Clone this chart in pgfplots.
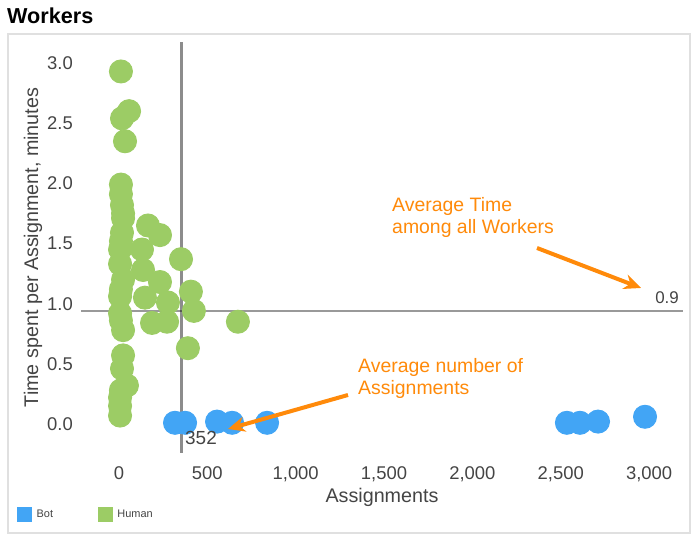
\documentclass[border=0pt]{standalone}
\usepackage{fontspec}
\setmainfont{Liberation Sans}
\usepackage{pgfplots}
\pgfplotsset{compat=1.18}
\usetikzlibrary{arrows.meta}
\definecolor{botblue}{HTML}{42A5F5}
\definecolor{humgreen}{HTML}{9CCC65}
\definecolor{txtgray}{HTML}{444444}
\definecolor{annor}{HTML}{FF8A0A}
\begin{document}
\begin{tikzpicture}[x=1bp,y=1bp]
\useasboundingbox (0,0) rectangle (698,539);
\begin{scope}[yshift=539bp,y=-1bp]
\draw[color=black!12, line width=1.2bp] (8,34) rectangle (690,533);
\node[anchor=west, inner sep=0, font=\fontsize{21.7}{26}\selectfont\bfseries] at (7,16) {Workers};
\end{scope}
\begin{axis}[
  at={(81bp,86bp)}, anchor=south west, scale only axis,
  width=602bp, height=411bp,
  xmin=-215, xmax=3192, ymin=-0.241, ymax=3.175,
  axis line style={draw=none}, major tick length=0pt,
  xtick={0,500,1000,1500,2000,2500,3000},
  ytick={0,0.5,1,1.5,2,2.5,3},
  /pgf/number format/assume math mode=true,
  x tick label style={/pgf/number format/.cd,1000 sep={,},fixed,/tikz/.cd, inner sep=0pt, anchor=north, yshift=-13bp},
  y tick label style={/pgf/number format/.cd,fixed,fixed zerofill,precision=1,/tikz/.cd, inner sep=0pt, anchor=east, xshift=-8bp},
  tick label style={font=\fontsize{18.5}{22}\selectfont, text=txtgray},
  xlabel={Assignments},
  ylabel={Time spent per Assignment, minutes},
  label style={font=\fontsize{19.8}{24}\selectfont, text=txtgray},
  xlabel style={at={(axis description cs:0.5,-0.109)}, anchor=center, inner sep=0pt},
  ylabel style={at={(axis description cs:-0.0797,0.5)}, anchor=center, inner sep=0pt},
  legend columns=2,
  legend style={at={(axis description cs:-0.1063,-0.1484)}, anchor=west, draw=none, fill=none, inner sep=0pt,
    font=\fontsize{11}{13}\selectfont, text=txtgray,
    nodes={inner sep=0pt, anchor=west},
    /tikz/every odd column/.style={column sep=5bp},
    /tikz/every even column/.style={column sep=45bp}},
  clip=false,
]
\addplot[botblue, only marks, mark=*, mark size=11.5bp, mark options={draw=botblue, fill=botblue, line width=1bp},
  legend image code/.code={\fill[botblue] (0bp,-7bp) rectangle (14bp,7bp);}]
  coordinates {
  (317,0.01) (374,0.01) (555,0.02) (640,0.01) (838,0.01)
  (2535,0.01) (2609,0.01) (2711,0.02) (2977,0.06)
  };
\addlegendentry{Bot}
\addplot[humgreen, only marks, mark=*, mark size=11.5bp, mark options={draw=humgreen, fill=humgreen, line width=1bp},
  legend image code/.code={\fill[humgreen] (0bp,-7bp) rectangle (14bp,7bp);}]
  coordinates {
  (11,2.93) (57,2.60) (17,2.54) (34,2.35) (11,1.99) (11,1.91)
  (17,1.82) (23,1.75) (23,1.71) (17,1.59) (11,1.52) (6,1.45) (6,1.33)
  (23,1.20) (11,1.12) (6,1.06) (6,0.92) (11,0.86) (23,0.78)
  (23,0.57) (17,0.46) (45,0.32) (11,0.28) (6,0.22) (6,0.15) (6,0.07)
  (164,1.65) (232,1.57) (130,1.45) (136,1.28) (232,1.18) (147,1.05)
  (277,1.01) (187,0.84) (272,0.85) (351,1.37) (407,1.10) (424,0.94)
  (390,0.63) (673,0.85)
  };
\addlegendentry{Human}
\addplot[black, opacity=0.45, line width=3bp, forget plot] coordinates {(352,-0.241) (352,3.175)};
\addplot[black, opacity=0.4, line width=2bp, forget plot] coordinates {(-215,0.94) (3192,0.94)};
\end{axis}
\begin{scope}[yshift=539bp,y=-1bp]
\node[anchor=east, inner sep=0, text=txtgray, font=\fontsize{17}{20}\selectfont] at (679,298) {0.9};
\node[anchor=west, inner sep=0, text=txtgray, font=\fontsize{19}{22}\selectfont] at (185,438) {352};
\node[anchor=west, align=left, inner sep=0, text=annor, font=\fontsize{19.5}{23}\selectfont] at (392,217.5) {Average Time\\among all Workers};
\node[anchor=west, align=left, inner sep=0, text=annor, font=\fontsize{19.5}{23}\selectfont] at (358,378.5) {Average number of\\Assignments};
\draw[annor, line width=4bp, -{Stealth[length=17bp,width=15bp]}] (537,248) -- (641,288);
\draw[annor, line width=4bp, -{Stealth[length=17bp,width=15bp]}] (348,395) -- (228,429);
\end{scope}
\end{tikzpicture}
\end{document}
